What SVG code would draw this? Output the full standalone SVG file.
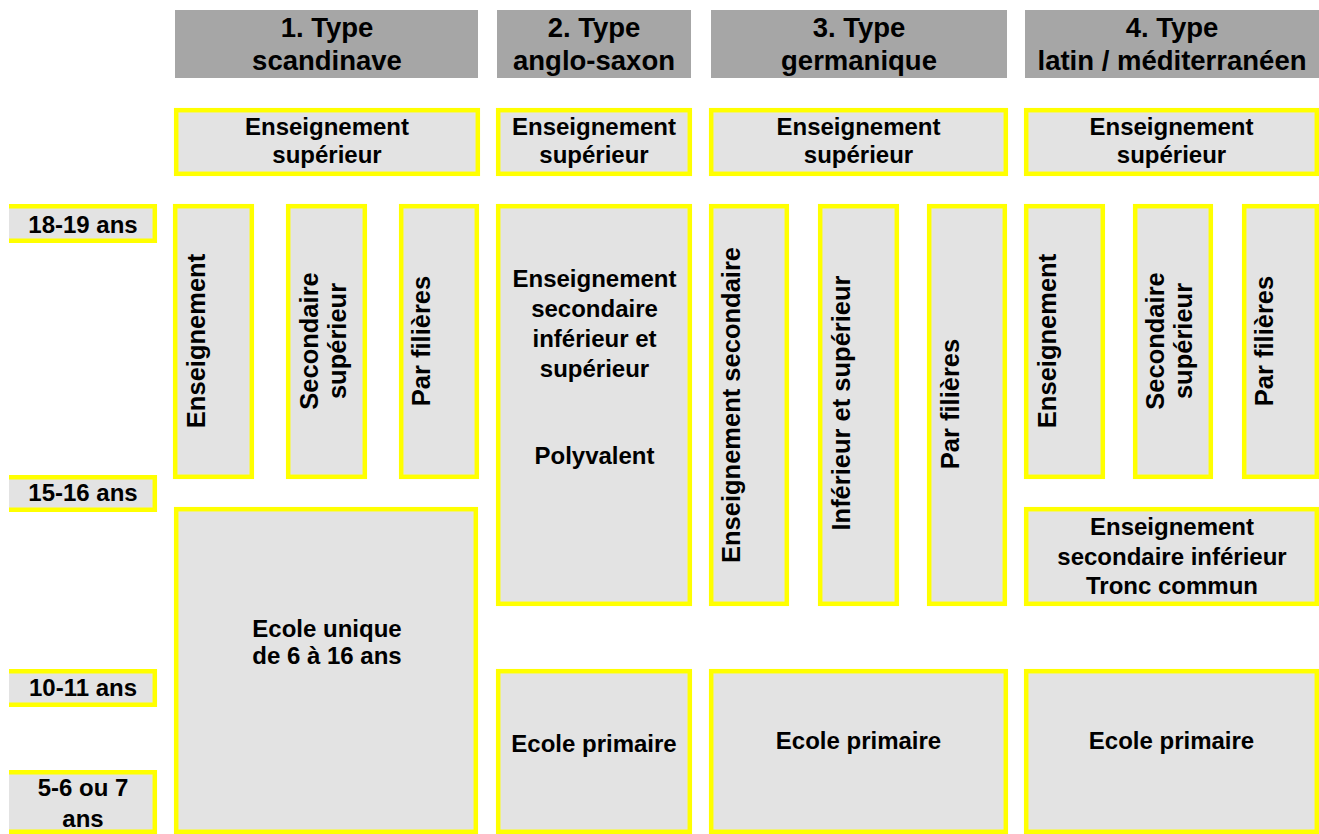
<svg xmlns="http://www.w3.org/2000/svg" width="1319" height="834" viewBox="0 0 1319 834">
<style>
.hd{fill:#A6A6A6}
.bx{fill:#E3E3E3;stroke:#FFFF00;stroke-width:4.5}
.lf{fill:#E3E3E3}
.ly{fill:none;stroke:#FFFF00;stroke-width:4.5}
text{font-family:"Liberation Sans",Arial,Helvetica,sans-serif;font-weight:bold;fill:#000;text-anchor:middle}
.t{font-size:24px}
.h{font-size:27.5px}
.v{font-size:25.5px}
</style>
<rect width="1319" height="834" fill="#fff"/>

<!-- age labels -->
<g id="age-18-19">
<rect class="lf" x="9" y="204" width="148" height="39"/>
<path class="ly" d="M9 206.2 H154.8 V240.8 H9"/>
<text class="t" x="83" y="233">18-19 ans</text>
</g>
<g id="age-15-16">
<rect class="lf" x="9" y="475" width="148" height="37"/>
<path class="ly" d="M9 477.2 H154.8 V509.8 H9"/>
<text class="t" x="83" y="501">15-16 ans</text>
</g>
<g id="age-10-11">
<rect class="lf" x="9" y="669" width="148" height="38"/>
<path class="ly" d="M9 671.2 H154.8 V704.8 H9"/>
<text class="t" x="83" y="696">10-11 ans</text>
</g>
<g id="age-5-7">
<rect class="lf" x="9" y="770" width="148" height="66"/>
<path class="ly" d="M9 772.2 H154.8 V831.8 H9"/>
<text class="t" x="83" y="796">5-6 ou 7</text>
<text class="t" x="83" y="827">ans</text>
</g>

<!-- column 1 -->
<g id="h1">
<rect class="hd" x="175" y="10" width="303" height="68"/>
<text class="h" x="327" y="37">1. Type</text>
<text class="h" x="327" y="70">scandinave</text>
</g>
<g id="sup1">
<rect class="bx" x="176.2" y="110.2" width="301.6" height="63.6"/>
<text class="t" x="327" y="135">Enseignement</text>
<text class="t" x="327" y="163">supérieur</text>
</g>
<g id="c1-a">
<rect class="bx" x="175.2" y="206.2" width="76.6" height="270.6"/>
<text class="v" transform="translate(205 341) rotate(-90)">Enseignement</text>
</g>
<g id="c1-b">
<rect class="bx" x="288.2" y="206.2" width="76.6" height="270.6"/>
<text class="v" transform="translate(318 341) rotate(-90)">Secondaire</text>
<text class="v" transform="translate(346 341) rotate(-90)">supérieur</text>
</g>
<g id="c1-c">
<rect class="bx" x="401.2" y="206.2" width="75.6" height="270.6"/>
<text class="v" transform="translate(430 341) rotate(-90)">Par filières</text>
</g>
<g id="c1-unique">
<rect class="bx" x="176.2" y="509.2" width="299.6" height="322.6"/>
<text class="t" x="327" y="637">Ecole unique</text>
<text class="t" x="327" y="664">de 6 à 16 ans</text>
</g>

<!-- column 2 -->
<g id="h2">
<rect class="hd" x="497" y="10" width="194" height="68"/>
<text class="h" x="594" y="37">2. Type</text>
<text class="h" x="594" y="70">anglo-saxon</text>
</g>
<g id="sup2">
<rect class="bx" x="498.2" y="110.2" width="191.6" height="63.6"/>
<text class="t" x="594" y="135">Enseignement</text>
<text class="t" x="594" y="163">supérieur</text>
</g>
<g id="c2-poly">
<rect class="bx" x="498.2" y="206.2" width="191.6" height="397.6"/>
<text class="t" x="594.5" y="287">Enseignement</text>
<text class="t" x="594.5" y="317">secondaire</text>
<text class="t" x="594.5" y="347">inférieur et</text>
<text class="t" x="594.5" y="377">supérieur</text>
<text class="t" x="594.5" y="464">Polyvalent</text>
</g>
<g id="c2-prim">
<rect class="bx" x="498.2" y="671.2" width="191.6" height="160.6"/>
<text class="t" x="594" y="752">Ecole primaire</text>
</g>

<!-- column 3 -->
<g id="h3">
<rect class="hd" x="711" y="10" width="296" height="68"/>
<text class="h" x="859" y="37">3. Type</text>
<text class="h" x="859" y="70">germanique</text>
</g>
<g id="sup3">
<rect class="bx" x="711.2" y="110.2" width="294.6" height="63.6"/>
<text class="t" x="858.5" y="135">Enseignement</text>
<text class="t" x="858.5" y="163">supérieur</text>
</g>
<g id="c3-a">
<rect class="bx" x="711.2" y="206.2" width="75.6" height="397.6"/>
<text class="v" transform="translate(740 405) rotate(-90)">Enseignement secondaire</text>
</g>
<g id="c3-b">
<rect class="bx" x="820.2" y="206.2" width="76.6" height="397.6"/>
<text class="v" transform="translate(850 403) rotate(-90)">Inférieur et supérieur</text>
</g>
<g id="c3-c">
<rect class="bx" x="929.2" y="206.2" width="75.6" height="397.6"/>
<text class="v" transform="translate(959 404) rotate(-90)">Par filières</text>
</g>
<g id="c3-prim">
<rect class="bx" x="711.2" y="671.2" width="294.6" height="160.6"/>
<text class="t" x="858.5" y="749">Ecole primaire</text>
</g>

<!-- column 4 -->
<g id="h4">
<rect class="hd" x="1025" y="10" width="294" height="68"/>
<text class="h" x="1172" y="37">4. Type</text>
<text class="h" x="1172" y="70">latin / méditerranéen</text>
</g>
<g id="sup4">
<rect class="bx" x="1026.2" y="110.2" width="290.6" height="63.6"/>
<text class="t" x="1171.5" y="135">Enseignement</text>
<text class="t" x="1171.5" y="163">supérieur</text>
</g>
<g id="c4-a">
<rect class="bx" x="1026.2" y="206.2" width="76.6" height="270.6"/>
<text class="v" transform="translate(1056 341) rotate(-90)">Enseignement</text>
</g>
<g id="c4-b">
<rect class="bx" x="1135.2" y="206.2" width="75.6" height="270.6"/>
<text class="v" transform="translate(1164 341) rotate(-90)">Secondaire</text>
<text class="v" transform="translate(1192 341) rotate(-90)">supérieur</text>
</g>
<g id="c4-c">
<rect class="bx" x="1244.2" y="206.2" width="72.6" height="270.6"/>
<text class="v" transform="translate(1273 341) rotate(-90)">Par filières</text>
</g>
<g id="c4-tronc">
<rect class="bx" x="1026.2" y="509.2" width="290.6" height="94.6"/>
<text class="t" x="1172" y="535">Enseignement</text>
<text class="t" x="1172" y="565">secondaire inférieur</text>
<text class="t" x="1172" y="594">Tronc commun</text>
</g>
<g id="c4-prim">
<rect class="bx" x="1026.2" y="671.2" width="290.6" height="160.6"/>
<text class="t" x="1171.5" y="749">Ecole primaire</text>
</g>

<g id="connectors"/>
</svg>
